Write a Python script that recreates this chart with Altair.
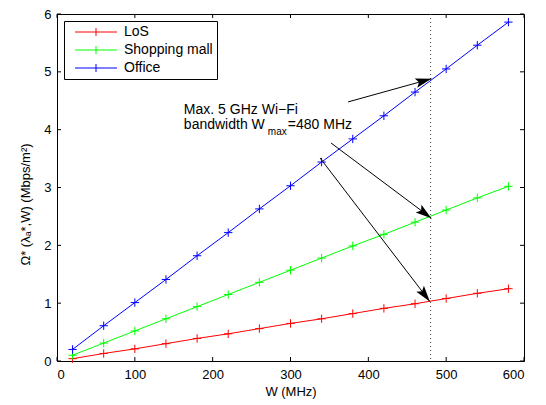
import math
import altair as alt
import pandas as pd

# ---- data ----
W = [20, 60, 100, 140, 180, 220, 260, 300, 340, 380, 420, 460, 500, 540, 580]
los = [0.04, 0.13, 0.21, 0.30, 0.39, 0.47, 0.56, 0.65, 0.73, 0.82, 0.91, 0.99, 1.08, 1.17, 1.25]
mall = [0.10, 0.31, 0.52, 0.73, 0.94, 1.15, 1.36, 1.57, 1.78, 1.99, 2.19, 2.40, 2.61, 2.82, 3.02]
office = [0.20, 0.61, 1.01, 1.41, 1.82, 2.22, 2.63, 3.03, 3.44, 3.84, 4.24, 4.65, 5.05, 5.46, 5.86]
series_names = ["LoS", "Shopping mall", "Office"]
series_colors = ["#ff0000", "#00ff00", "#0000ff"]

x_ticks = [0, 100, 200, 300, 400, 500, 600]
y_ticks = [0, 1, 2, 3, 4, 5, 6]
w_max = [480]

# annotation arrows (data units)
arrow_x1 = [374, 352, 338]
arrow_y1 = [4.48, 3.77, 3.51]
arrow_x2 = [481, 481, 479]
arrow_y2 = [4.88, 2.47, 1.03]
note_x = [163]
note_y1 = [4.34]
note_y2 = [4.08]

W_PLOT, H_PLOT = 467, 347
FONT = "Liberation Sans"

rows = []
for name, vals in zip(series_names, [los, mall, office]):
    for w, v in zip(W, vals):
        rows.append({"W": w, "val": v, "series": name})
df = pd.DataFrame(rows)

xs = alt.Scale(domain=[0, 600], nice=False)
ys = alt.Scale(domain=[0, 6], nice=False)

legend = alt.Legend(
    title=None, orient="none", legendX=7, legendY=7,
    symbolType="M-1,0H7.4M3.2,-0.8V0.8", symbolSize=100, symbolStrokeWidth=1,
    labelFont=FONT, labelFontSize=14, labelColor="black",
    strokeColor="black", fillColor="white", padding=4,
    symbolOffset=5, labelOffset=37, rowPadding=4,
)
color = alt.Color("series:N", scale=alt.Scale(domain=series_names, range=series_colors),
                  sort=series_names, legend=legend)

xenc = alt.X("W:Q", scale=xs, axis=alt.Axis(values=x_ticks, title="W (MHz)", ticks=False, format="d",
                                            labelPadding=7, titlePadding=4))
yenc = alt.Y("val:Q", scale=ys, axis=alt.Axis(values=y_ticks, title="Ω* (λₐ*,W) (Mbps/m²)", format="d",
                                              ticks=False, labelPadding=6, titlePadding=11,
                                              titleY=190))

lines = alt.Chart(df).mark_line(strokeWidth=1).encode(x=xenc, y=yenc, color=color)
points = alt.Chart(df).mark_point(shape="M-1,0H1M0,-1V1", size=70, filled=False,
                                  strokeWidth=1, opacity=1).encode(x="W:Q", y="val:Q", color=color)

vline = alt.Chart(pd.DataFrame({"x": w_max})).mark_rule(
    color="#444", strokeDash=[1, 3], strokeWidth=1).encode(x="x:Q")

# inward ticks
xt = pd.DataFrame({"t": x_ticks})
yt = pd.DataFrame({"t": y_ticks})
tb = alt.Chart(xt).mark_rule(color="black").encode(x="t:Q", y=alt.value(H_PLOT), y2=alt.value(H_PLOT - 4))
tt = alt.Chart(xt).mark_rule(color="black").encode(x="t:Q", y=alt.value(0), y2=alt.value(4))
tl = alt.Chart(yt).mark_rule(color="black").encode(y="t:Q", x=alt.value(0), x2=alt.value(4))
tr = alt.Chart(yt).mark_rule(color="black").encode(y="t:Q", x=alt.value(W_PLOT), x2=alt.value(W_PLOT - 4))

# arrows
px, py = W_PLOT / 600.0, H_PLOT / 6.0
angs = []
for a, b, c, d in zip(arrow_x1, arrow_y1, arrow_x2, arrow_y2):
    dx = (c - a) * px
    dy = -(d - b) * py
    angs.append(math.degrees(math.atan2(dx, -dy)) % 360)
adf = pd.DataFrame({"xa": arrow_x1, "ya": arrow_y1, "xb": arrow_x2, "yb": arrow_y2, "ang": angs})
ashaft = alt.Chart(adf).mark_rule(color="black", strokeWidth=1).encode(
    x="xa:Q", y="ya:Q", x2="xb:Q", y2="yb:Q")
ahead = alt.Chart(adf).mark_point(shape="M0,0L0.6,2L0,1.6L-0.6,2Z", size=256, filled=True,
                                  color="black", opacity=1, strokeWidth=0).encode(
    x="xb:Q", y="yb:Q", angle=alt.Angle("ang:Q", scale=None))

ndf = pd.DataFrame({"x": note_x, "y1": note_y1, "y2": note_y2})
tx = dict(font=FONT, fontSize=14, align="left", baseline="middle", color="black")
t1 = alt.Chart(ndf).mark_text(**tx, text="Max. 5 GHz Wi−Fi").encode(x="x:Q", y="y1:Q")
t2 = alt.Chart(ndf).mark_text(**tx, text="bandwidth W").encode(x="x:Q", y="y2:Q")
t3 = alt.Chart(ndf).mark_text(font=FONT, fontSize=10, align="left", baseline="middle",
                              color="black", dx=84, dy=7, text="max").encode(x="x:Q", y="y2:Q")
t4 = alt.Chart(ndf).mark_text(**tx, dx=104, text="=480 MHz").encode(x="x:Q", y="y2:Q")

chart = alt.layer(vline, lines, points, tb, tt, tl, tr, ashaft, ahead, t1, t2, t3, t4).properties(
    width=W_PLOT, height=H_PLOT,
    padding={"left": 49, "top": 6, "right": 14, "bottom": 44},
    autosize=alt.AutoSizeParams(type="none"),
    background="white",
).configure_view(stroke="black", strokeWidth=1).configure_axis(
    grid=False, domainColor="black", labelFont=FONT, labelFontSize=13, labelColor="black",
    titleFont=FONT, titleFontSize=13, titleFontWeight="normal", titleColor="black",
)

chart.save("out.html", embed_options={"renderer": "svg", "actions": False})
